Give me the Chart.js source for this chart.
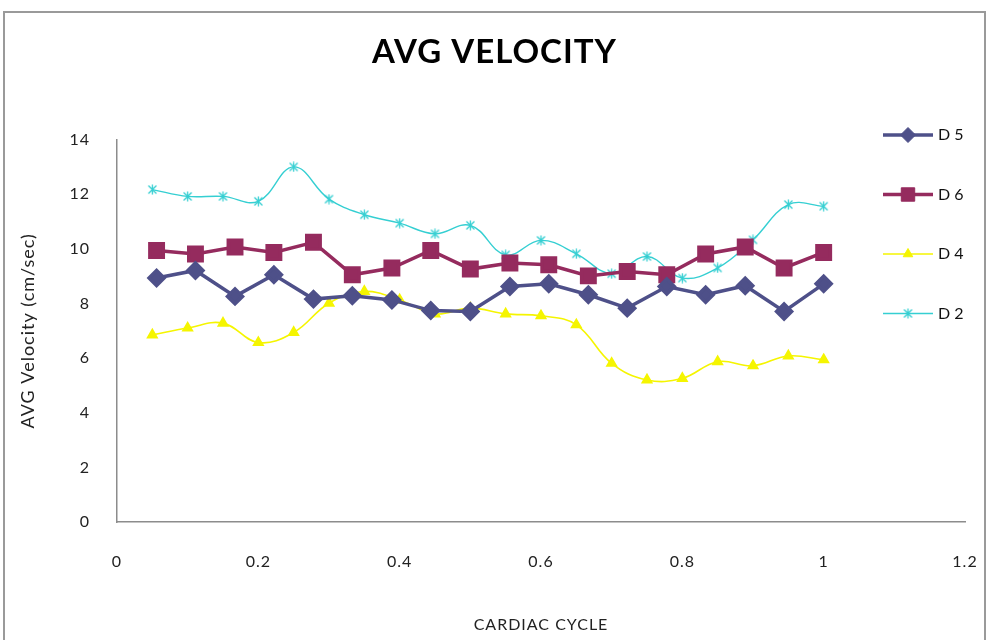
<!DOCTYPE html>
<html>
<head>
<meta charset="utf-8">
<title>AVG VELOCITY</title>
<script src="https://cdn.jsdelivr.net/npm/chart.js@4.4.1/dist/chart.umd.min.js"></script>
<style>
	html, body { margin: 0; padding: 0; background: #fff; }
	canvas { display: block; }
</style>
</head>
<body>
<canvas id="velocity" width="989" height="640"></canvas>
<script>
// Cardiac cycle positions: D5/D6 were sampled 18 times, D4/D2 20 times.
var cycleD5D6 = [0.056, 0.111, 0.167, 0.222, 0.278, 0.333, 0.389, 0.444, 0.5, 0.556, 0.611, 0.667, 0.722, 0.778, 0.833, 0.889, 0.944, 1];
var cycleD4D2 = [0.05, 0.1, 0.15, 0.2, 0.25, 0.3, 0.35, 0.4, 0.45, 0.5, 0.55, 0.6, 0.65, 0.7, 0.75, 0.8, 0.85, 0.9, 0.95, 1];

// Average velocity (cm/sec)
var velD5 = [8.93, 9.21, 8.26, 9.05, 8.16, 8.28, 8.13, 7.74, 7.71, 8.62, 8.72, 8.32, 7.83, 8.62, 8.32, 8.65, 7.71, 8.72];
var velD6 = [9.94, 9.81, 10.07, 9.87, 10.24, 9.05, 9.30, 9.94, 9.26, 9.48, 9.42, 9.01, 9.17, 9.05, 9.81, 10.07, 9.30, 9.87];
var velD4 = [6.85, 7.10, 7.28, 6.57, 6.94, 8.01, 8.44, 8.13, 7.62, 7.83, 7.62, 7.55, 7.22, 5.81, 5.20, 5.26, 5.87, 5.72, 6.08, 5.94];
var velD2 = [12.17, 11.92, 11.92, 11.74, 13.0, 11.82, 11.25, 10.94, 10.55, 10.86, 9.78, 10.31, 9.82, 9.09, 9.72, 8.93, 9.30, 10.33, 11.62, 11.56];

var seriesLabels = ["D 5", "D 6", "D 4", "D 2"];
var xTicks = [0, 0.2, 0.4, 0.6, 0.8, 1, 1.2];
var yTicks = [0, 2, 4, 6, 8, 10, 12, 14];

function toPoints(xs, ys) {
	return xs.map(function (x, i) {
		return { x: x, y: ys[i] };
	});
}

// asterisk marker (an x with a vertical stroke through it)
function starMarker(color) {
	var c = document.createElement("canvas");
	c.width = 11;
	c.height = 11;
	var g = c.getContext("2d");
	g.strokeStyle = color;
	g.lineWidth = 1.3;
	g.beginPath();
	g.moveTo(1.5, 1.5);
	g.lineTo(9.5, 9.5);
	g.moveTo(9.5, 1.5);
	g.lineTo(1.5, 9.5);
	g.moveTo(5.5, 0.5);
	g.lineTo(5.5, 10.5);
	g.stroke();
	return c;
}

// outer frame round the whole chart, plus a little tracking on all text
var frame = {
	id: "frame",
	beforeDraw: function (chart) {
		var ctx = chart.ctx;
		ctx.save();
		ctx.fillStyle = "#fff";
		ctx.fillRect(0, 0, chart.width, chart.height);
		ctx.strokeStyle = "#9a9a9a";
		ctx.lineWidth = 2;
		ctx.strokeRect(4, 12, chart.width - 8, chart.height + 10);
		ctx.restore();
		ctx.letterSpacing = "1px";
	},
	afterDraw: function (chart) {
		chart.ctx.letterSpacing = "0px";
	},
};

// legend on the right: line sample with its marker, then the label
var sideLegend = {
	id: "sideLegend",
	afterDraw: function (chart) {
		var ctx = chart.ctx;
		var top = 135, gap = 59.5;
		chart.data.datasets.forEach(function (ds, i) {
			var y = top + i * gap;
			ctx.save();
			ctx.strokeStyle = ds.borderColor;
			ctx.lineWidth = ds.borderWidth;
			ctx.beginPath();
			ctx.moveTo(883, y);
			ctx.lineTo(933, y);
			ctx.stroke();
			ctx.fillStyle = ds.pointBackgroundColor;
			ctx.strokeStyle = ds.pointBorderColor;
			ctx.lineWidth = 1;
			Chart.helpers.drawPoint(ctx, { pointStyle: ds.pointStyle, radius: ds.pointRadius, rotation: 0, borderWidth: 1 }, 908, y);
			ctx.fillStyle = "#111";
			ctx.font = "16px Lato";
			ctx.textBaseline = "middle";
			ctx.textAlign = "left";
			ctx.fillText(ds.label, 938, y);
			ctx.restore();
		});
	},
};

var tickFont = { family: "Lato", size: 16 };

var config = {
	type: "line",
	data: {
		datasets: [
			{
				label: seriesLabels[0],
				data: toPoints(cycleD5D6, velD5),
				borderColor: "#4E5089",
				backgroundColor: "#4E5089",
				pointBackgroundColor: "#4E5089",
				pointBorderColor: "#4E5089",
				pointStyle: "rectRot",
				pointRadius: 7.5,
				borderWidth: 3.5,
				tension: 0,
			},
			{
				label: seriesLabels[1],
				data: toPoints(cycleD5D6, velD6),
				borderColor: "#952B5E",
				backgroundColor: "#952B5E",
				pointBackgroundColor: "#952B5E",
				pointBorderColor: "#952B5E",
				pointStyle: "rect",
				pointRadius: 9.5,
				borderWidth: 3.5,
				tension: 0,
			},
			{
				label: seriesLabels[2],
				data: toPoints(cycleD4D2, velD4),
				borderColor: "#F5F500",
				backgroundColor: "#F5F500",
				pointBackgroundColor: "#F5F500",
				pointBorderColor: "#F5F500",
				pointStyle: "triangle",
				pointRadius: 5.5,
				borderWidth: 1.6,
				tension: 0.4,
			},
			{
				label: seriesLabels[3],
				data: toPoints(cycleD4D2, velD2),
				borderColor: "#35CFD2",
				backgroundColor: "#35CFD2",
				pointBackgroundColor: "#35CFD2",
				pointBorderColor: "#35CFD2",
				pointStyle: starMarker("#35CFD2"),
				pointRadius: 5,
				borderWidth: 1.4,
				tension: 0.4,
			},
		],
	},
	plugins: [frame, sideLegend],
	options: {
		responsive: false,
		animation: false,
		layout: {
			padding: 0,
		},
		plugins: {
			legend: { display: false },
			tooltip: { enabled: false },
			title: {
				display: true,
				text: "AVG VELOCITY",
				color: "#000",
				font: { family: "Lato", size: 33, weight: "bold" },
				padding: { top: 33, bottom: 67 },
			},
		},
		scales: {
			x: {
				type: "linear",
				min: 0,
				max: 1.2,
				afterBuildTicks: function (scale) {
					scale.ticks = xTicks.map(function (v) { return { value: v }; });
				},
				afterFit: function (scale) {
					scale.height = 118;
					// keep the plot's right edge clear of the canvas edge
					scale.paddingRight = 24;
				},
				// tick marks hidden; tickLength only sets the label gap
				grid: { display: false, tickLength: 30 },
				border: { display: true, color: "#8c8c8c", width: 1.5 },
				ticks: {
					font: tickFont,
					color: "#222",
					padding: 0,
					maxRotation: 0,
					callback: function (v) { return String(v); },
				},
				title: {
					display: true,
					text: "CARDIAC CYCLE",
					color: "#222",
					font: { family: "Lato", size: 16 },
					padding: { top: 0, bottom: 6 },
				},
			},
			y: {
				min: 0,
				max: 14,
				afterBuildTicks: function (scale) {
					scale.ticks = yTicks.map(function (v) { return { value: v }; });
				},
				afterFit: function (scale) {
					scale.width = 117;
				},
				grid: { display: false },
				border: { display: true, color: "#8c8c8c", width: 1.5 },
				ticks: {
					font: tickFont,
					color: "#222",
					padding: 19,
				},
				title: {
					display: true,
					text: "AVG Velocity (cm/sec)",
					color: "#222",
					font: { family: "Lato", size: 18 },
					padding: { top: 17, bottom: 0 },
				},
			},
		},
	},
};

window.velocityChart = new Chart(document.getElementById("velocity"), config);
</script>
</body>
</html>
